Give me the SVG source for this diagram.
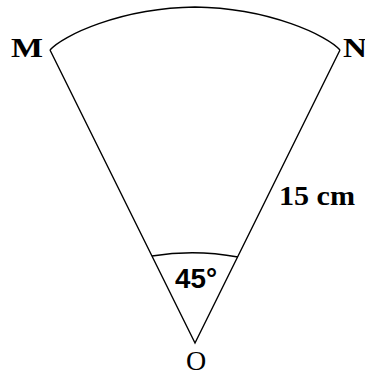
<svg xmlns="http://www.w3.org/2000/svg" width="365" height="377" viewBox="0 0 365 377">
<style>
.ln{fill:none;stroke:#000;stroke-width:1.4;stroke-linejoin:miter}
.lb{font-family:"Liberation Serif","Times New Roman",serif;font-weight:bold;font-size:27px;fill:#000}
.ang{font-family:"Liberation Sans",Arial,sans-serif;font-weight:bold;font-size:28px;fill:#000}
.o{font-family:"Liberation Serif","Times New Roman",serif;font-size:28px;fill:#000}
</style>
<rect width="365" height="377" fill="#fff"/>
<g id="connectors">
<path class="ln" d="M50,50 C62,36 120,8 195,7 C270,8 328,36 340,50"/>
<path class="ln" d="M50,50 L195,343 L340,50"/>
<path class="ln" d="M152,256 Q195,249 238,257"/>
</g>
<g id="M"><text class="lb" x="11" y="57" textLength="32" lengthAdjust="spacingAndGlyphs">M</text></g>
<g id="N"><text class="lb" x="343" y="57" textLength="24" lengthAdjust="spacingAndGlyphs">N</text></g>
<g id="O"><text class="o" x="186" y="370">O</text></g>
<g id="radius"><text class="lb" x="279" y="205" font-size="29" textLength="76" lengthAdjust="spacingAndGlyphs">15 cm</text></g>
<g id="angle"><text class="ang" x="175" y="288" textLength="42" lengthAdjust="spacingAndGlyphs">45°</text></g>
</svg>
